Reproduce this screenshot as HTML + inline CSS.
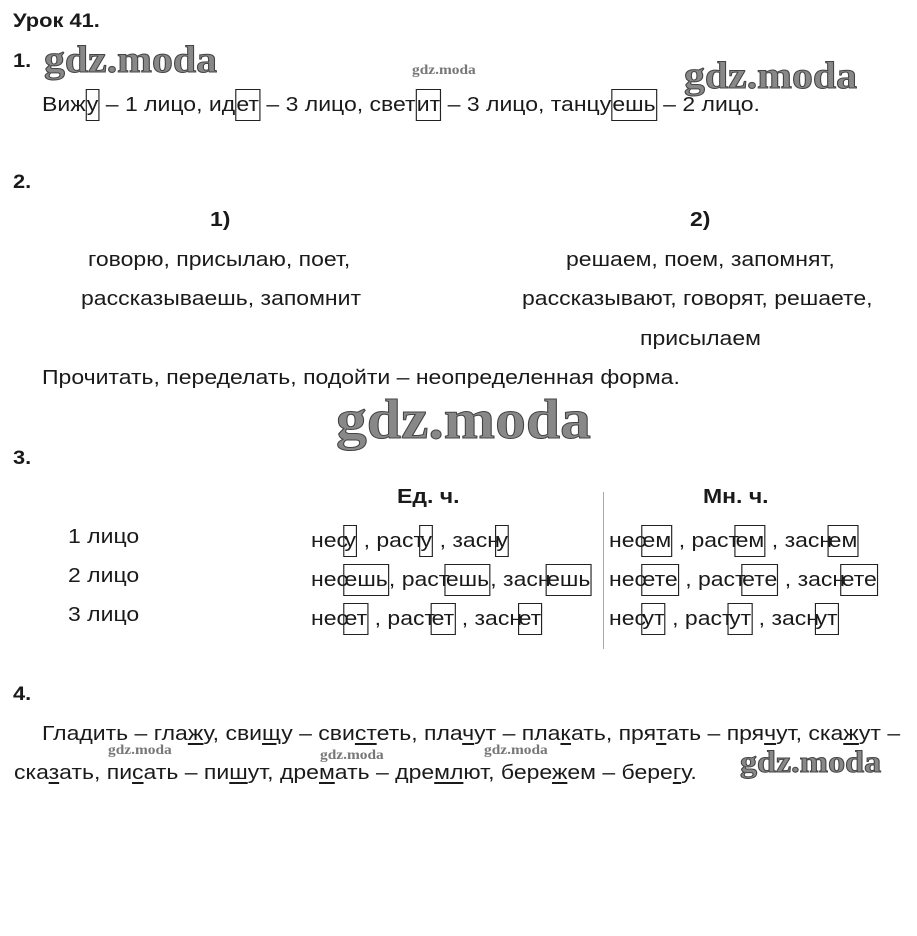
<!DOCTYPE html>
<html><head><meta charset="utf-8"><style>
html,body{margin:0;padding:0;background:#fff;}
body{width:917px;height:936px;position:relative;overflow:hidden;font-family:"Liberation Sans",Arial,sans-serif;color:#1a1a1a;font-size:20px;}
.t{position:absolute;white-space:nowrap;line-height:24px;transform:scaleX(1.15);transform-origin:0 0;}
.b{font-weight:bold;}
.bx{border:1.5px solid #222;padding:3px 0 3px 0;display:inline-block;line-height:24px;}
.ov{margin-left:-4px;}
.wm{position:absolute;font-family:"Liberation Serif",serif;font-weight:bold;color:#888;white-space:nowrap;-webkit-text-stroke:1px #444;transform:scaleX(1.1);transform-origin:0 0;}
.ws{position:absolute;font-family:"Liberation Serif",serif;color:#777;white-space:nowrap;font-size:14px;font-weight:bold;transform:scaleX(1.1);transform-origin:0 0;}
u{text-decoration-thickness:2px;text-underline-offset:3px;}
</style></head><body>
<div class="t b" style="left:13px;top:10px;font-size:19px;">Урок 41.</div>
<div class="t b" style="left:13px;top:50px;font-size:19px;">1.</div>
<div class="wm" style="left:44px;top:38px;font-size:38px;">gdz.moda</div>
<div class="ws" style="left:412px;top:63px;">gdz.moda</div>
<div class="wm" style="left:684px;top:54px;font-size:38px;">gdz.moda</div>
<div class="t" style="left:42px;top:89px;">Виж<span class="bx">у</span> – 1 лицо, ид<span class="bx">ет</span> – 3 лицо, свет<span class="bx">ит</span> – 3 лицо, танцу<span class="bx">ешь</span> – 2 лицо.</div>

<div class="t b" style="left:13px;top:171px;font-size:19px;">2.</div>
<div class="t b" style="left:210px;top:208px;">1)</div>
<div class="t b" style="left:690px;top:208px;">2)</div>
<div class="t" style="left:88px;top:248px;">говорю, присылаю, поет,</div>
<div class="t" style="left:81px;top:287px;">рассказываешь, запомнит</div>
<div class="t" style="left:566px;top:248px;">решаем, поем, запомнят,</div>
<div class="t" style="left:522px;top:287px;">рассказывают, говорят, решаете,</div>
<div class="t" style="left:640px;top:327px;">присылаем</div>
<div class="t" style="left:42px;top:366px;">Прочитать, переделать, подойти – неопределенная форма.</div>
<div class="wm" style="left:336px;top:388px;font-size:56px;">gdz.moda</div>

<div class="t b" style="left:13px;top:447px;font-size:19px;">3.</div>
<div class="t b" style="left:397px;top:485px;">Ед. ч.</div>
<div class="t b" style="left:703px;top:485px;">Мн. ч.</div>
<div style="position:absolute;left:603px;top:492px;width:1px;height:157px;background:#7ab8e0;"></div>
<div class="t" style="left:68px;top:525px;">1 лицо</div>
<div class="t" style="left:68px;top:564px;">2 лицо</div>
<div class="t" style="left:68px;top:603px;">3 лицо</div>
<div class="t" style="left:311px;top:525px;">нес<span class="bx ov">у</span> , раст<span class="bx ov">у</span> , засн<span class="bx ov">у</span></div>
<div class="t" style="left:311px;top:564px;">нес<span class="bx ov">ешь</span>, раст<span class="bx ov">ешь</span>, засн<span class="bx ov">ешь</span></div>
<div class="t" style="left:311px;top:603px;">нес<span class="bx ov">ет</span> , раст<span class="bx ov">ет</span> , засн<span class="bx ov">ет</span></div>
<div class="t" style="left:609px;top:525px;">нес<span class="bx ov">ем</span> , раст<span class="bx ov">ем</span> , засн<span class="bx ov">ем</span></div>
<div class="t" style="left:609px;top:564px;">нес<span class="bx ov">ете</span> , раст<span class="bx ov">ете</span> , засн<span class="bx ov">ете</span></div>
<div class="t" style="left:609px;top:603px;">нес<span class="bx ov">ут</span> , раст<span class="bx ov">ут</span> , засн<span class="bx ov">ут</span></div>

<div class="t b" style="left:13px;top:683px;font-size:19px;">4.</div>
<div class="t" style="left:42px;top:722px;">Гла<u>д</u>ить – гла<u>ж</u>у, сви<u>щ</u>у – сви<u>ст</u>еть, пла<u>ч</u>ут – пла<u>к</u>ать, пря<u>т</u>ать – пря<u>ч</u>ут, ска<u>ж</u>ут –</div>
<div class="ws" style="left:108px;top:743px;">gdz.moda</div>
<div class="ws" style="left:320px;top:748px;">gdz.moda</div>
<div class="ws" style="left:484px;top:743px;">gdz.moda</div>
<div class="wm" style="left:740px;top:744px;font-size:31px;">gdz.moda</div>
<div class="t" style="left:14px;top:761px;">ска<u>з</u>ать, пи<u>с</u>ать – пи<u>ш</u>ут, дре<u>м</u>ать – дре<u>мл</u>ют, бере<u>ж</u>ем – бере<u>г</u>у.</div>
</body></html>
